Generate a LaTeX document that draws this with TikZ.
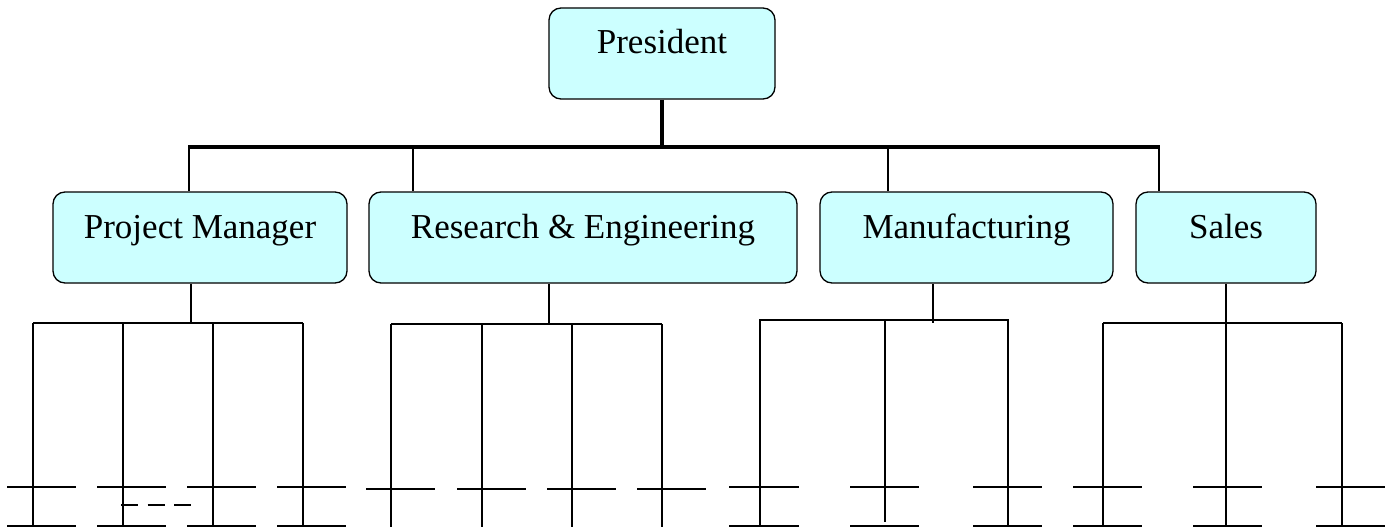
\documentclass[tikz,border=0pt]{standalone}
\usepackage{fontspec}
\setmainfont{Liberation Serif}
\definecolor{boxfill}{HTML}{CCFFFF}
\tikzset{
  orgbox/.style={draw=black, line width=1.3pt, fill=boxfill, rounded corners=12pt,
    inner sep=0pt, text height=46pt, text depth=45pt, align=center,
    font=\fontsize{35}{42}\selectfont},
  thin/.style={line width=1.6pt, black},
  thickbar/.style={line width=4.6pt, black},
  dashseg/.style={line width=1.6pt, dash pattern=on 17pt off 9.5pt}
}
\begin{document}
\begin{tikzpicture}[x=1pt,y=-1pt]
\useasboundingbox (0,0) rectangle (1391,527);
% boxes
\node[orgbox, minimum width=226pt] (pres) at (662,53.5) {President};
\node[orgbox, minimum width=294pt] (pm) at (200,237.5) {Project Manager};
\node[orgbox, minimum width=428pt] (re) at (583,237.5) {Research \& Engineering};
\node[orgbox, minimum width=293pt] (mf) at (966.5,237.5) {Manufacturing};
\node[orgbox, minimum width=180pt] (sa) at (1226,237.5) {Sales};
% top level
\coordinate (bar) at (662,147);
\coordinate (barL) at (188,147);
\coordinate (barR) at (1159.5,147);
\draw[thickbar] (pres.south) -- (bar);
\draw[thickbar] (barL) -- (barR);
\coordinate (cpm) at (189,147);
\coordinate (cre) at (413,147);
\coordinate (cmf) at (888,147);
\coordinate (csa) at (1159,147);
\draw[thin] (cpm) -- (cpm |- pm.north);
\draw[thin] (cre) -- (cre |- re.north);
\draw[thin] (cmf) -- (cmf |- mf.north);
\draw[thin] (csa) -- (csa |- sa.north);
% Project Manager group
\coordinate (jpm) at (191,323);
\draw[thin] (jpm |- pm.south) -- (jpm);
\draw[thin] (33,323) -- (303,323);
\foreach \x in {33,123,213,303}{
  \draw[thin] (\x,323) -- (\x,527);
  \draw[thin] (\x-26,487) -- (\x+43,487);
  \draw[thin] (\x-26,526) -- (\x+43,526);
}
\draw[dashseg] (121,505) -- (192,505);
% Research & Engineering group
\coordinate (jre) at (549,324);
\draw[thin] (jre |- re.south) -- (jre);
\draw[thin] (391,324) -- (662,324);
\foreach \x in {391,482,572,662}{
  \draw[thin] (\x,324) -- (\x,527);
  \draw[thin] (\x-25,489) -- (\x+44,489);
}
% Manufacturing group
\coordinate (jmf) at (933,323);
\draw[thin] (jmf |- mf.south) -- (jmf);
\draw[thin] (759,320) -- (1009,320);
\draw[thin] (760,321) -- (760,527);
\draw[thin] (885,321) -- (885,522);
\draw[thin] (1008,321) -- (1008,527);
\foreach \a/\b in {729/799,850/919,973/1042}{
  \draw[thin] (\a,487) -- (\b,487);
  \draw[thin] (\a,526) -- (\b,526);
}
% Sales group
\coordinate (jsa) at (1226,527);
\draw[thin] (jsa |- sa.south) -- (jsa);
\draw[thin] (1103,323) -- (1342,323);
\draw[thin] (1103,323) -- (1103,527);
\draw[thin] (1342,323) -- (1342,527);
\foreach \a/\b in {1073/1142,1193/1262,1316/1385}{
  \draw[thin] (\a,487) -- (\b,487);
  \draw[thin] (\a,526) -- (\b,526);
}
\end{tikzpicture}
\end{document}
